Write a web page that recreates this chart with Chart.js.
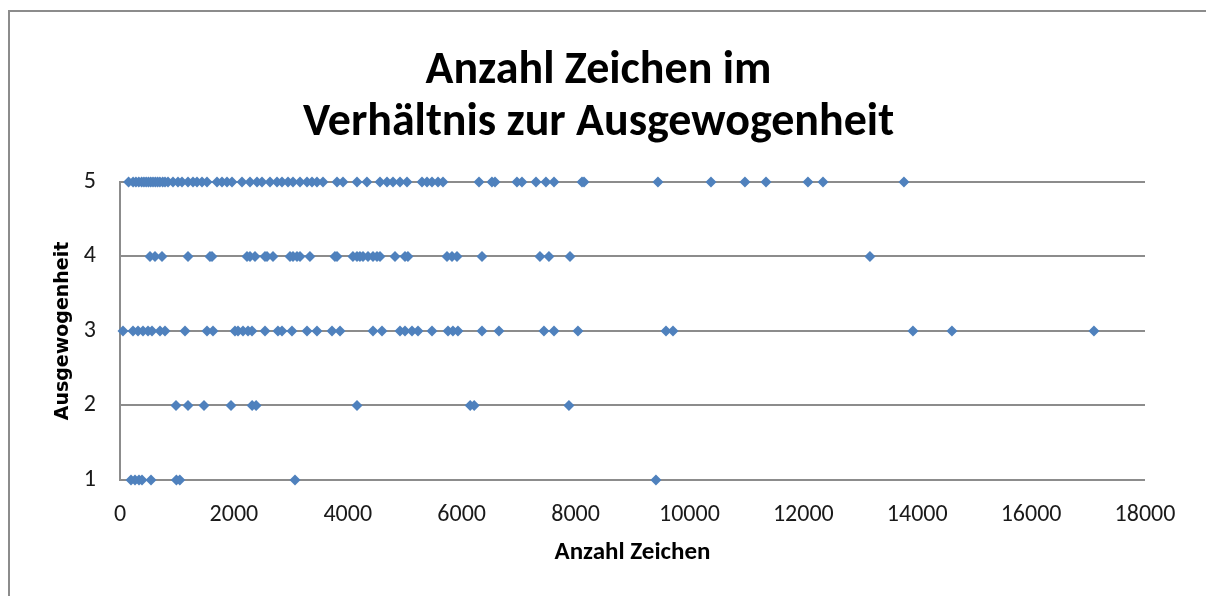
<!DOCTYPE html>
<html>
<head>
<meta charset="utf-8">
<script src="https://cdn.jsdelivr.net/npm/chart.js@4"></script>
<style>
  html, body { margin: 0; padding: 0; background: #fff; }
  #wrap { width: 1206px; height: 596px; }
</style>
</head>
<body>
<div id="wrap"><canvas id="myChart" width="1206" height="596"></canvas></div>
<script>
// Anzahl Zeichen je Ausgewogenheitsstufe
const zeichen5 = [150, 230, 280, 330, 380, 420, 460, 500, 540, 580, 620, 660, 700, 750, 790,
  843, 931, 1018, 1089, 1194, 1282, 1352, 1440, 1528, 1703, 1791, 1879, 1967, 2142, 2283,
  2406, 2494, 2634, 2757, 2845, 2950, 3038, 3161, 3284, 3372, 3459, 3565, 3811, 3916, 4162,
  4337, 4566, 4689, 4794, 4917, 5040, 5303, 5391, 5479, 5584, 5672, 6304, 6532, 6585, 6971,
  7059, 7305, 7480, 7621, 8113, 8148, 9447, 10378, 10975, 11344, 12081, 12345, 13767];
const zeichen4 = [527, 615, 738, 1194, 1580, 1616, 2230, 2283, 2371, 2546, 2581, 2687, 2985,
  3038, 3108, 3161, 3336, 3775, 3811, 4091, 4162, 4214, 4267, 4355, 4443, 4513, 4566, 4829,
  5005, 5057, 5742, 5830, 5918, 6357, 7375, 7533, 7902, 13170];
const zeichen3 = [53, 228, 316, 404, 492, 562, 702, 790, 1141, 1528, 1633, 2019, 2072, 2160,
  2248, 2318, 2546, 2774, 2845, 3020, 3284, 3459, 3723, 3864, 4443, 4601, 4917, 5005, 5128,
  5233, 5479, 5760, 5847, 5935, 6357, 6655, 7445, 7621, 8042, 9588, 9711, 13925, 14610, 17103];
const zeichen2 = [983, 1194, 1475, 1949, 2320, 2390, 4162, 6150, 6220, 7884];
const zeichen1 = [193, 263, 334, 386, 544, 990, 1050, 3073, 9412];

const stufen = [5, 4, 3, 2, 1];
const zeichenJeStufe = [zeichen5, zeichen4, zeichen3, zeichen2, zeichen1];

const xTicks = [0, 2000, 4000, 6000, 8000, 10000, 12000, 14000, 16000, 18000];
const yTicks = [1, 2, 3, 4, 5];

const calibri = "Carlito, Calibri, 'Liberation Sans Narrow', 'Open Sans', sans-serif";

const punkte = [];
stufen.forEach((s, i) => {
  zeichenJeStufe[i].forEach(z => punkte.push({x: z, y: s}));
});

const rahmen = {
  id: 'rahmen',
  beforeDraw(chart) {
    const c = chart.ctx;
    c.save();
    c.fillStyle = '#fff';
    c.fillRect(0, 0, chart.width, chart.height);
    c.strokeStyle = '#8c8c8c';
    c.lineWidth = 2;
    c.strokeRect(9, 11, chart.width + 20, chart.height + 20);
    c.restore();
  }
};

const ctx = document.getElementById('myChart');

new Chart(ctx, {
  type: 'scatter',
  data: {
    datasets: [{
      label: 'Ausgewogenheit',
      data: punkte,
      backgroundColor: '#4f81bd',
      borderColor: '#4f81bd',
      borderWidth: 0,
      pointStyle: 'rectRot',
      pointRadius: 5.5,
      clip: false
    }]
  },
  options: {
    responsive: false,
    animation: false,
    layout: {
      padding: {left: 52, right: 61, top: 46, bottom: 28}
    },
    plugins: {
      legend: {display: false},
      tooltip: {enabled: false},
      title: {
        display: true,
        text: ['Anzahl Zeichen im', 'Verhältnis zur Ausgewogenheit'],
        color: '#000',
        font: {family: calibri, size: 46, weight: 'bold', lineHeight: 1.13},
        padding: {top: 0, bottom: 32}
      }
    },
    scales: {
      x: {
        type: 'linear',
        min: 0,
        max: 18000,
        afterBuildTicks: axis => { axis.ticks = xTicks.map(v => ({value: v})); },
        afterFit: axis => { axis.height = 88; },
        grid: {display: false, drawTicks: false},
        border: {display: false},
        ticks: {
          color: '#1a1a1a',
          padding: 21,
          maxRotation: 0,
          font: {family: calibri, size: 24},
          callback: v => String(v)
        },
        title: {
          display: true,
          text: 'Anzahl Zeichen',
          color: '#000',
          font: {family: calibri, size: 25, weight: 'bold'},
          padding: 0
        }
      },
      y: {
        min: 1,
        max: 5,
        afterBuildTicks: axis => { axis.ticks = yTicks.map(v => ({value: v})); },
        afterFit: axis => { axis.width = 68; },
        grid: {color: '#8c8c8c', lineWidth: 2, drawTicks: false},
        border: {display: true, color: '#8c8c8c', width: 2},
        ticks: {
          color: '#1a1a1a',
          padding: 24,
          font: {family: calibri, size: 24},
          callback: v => String(v)
        },
        title: {
          display: true,
          text: 'Ausgewogenheit',
          color: '#000',
          font: {family: "'DejaVu Sans', sans-serif", size: 19, weight: 'bold'},
          padding: 0
        }
      }
    }
  },
  plugins: [rahmen]
});
</script>
</body>
</html>
